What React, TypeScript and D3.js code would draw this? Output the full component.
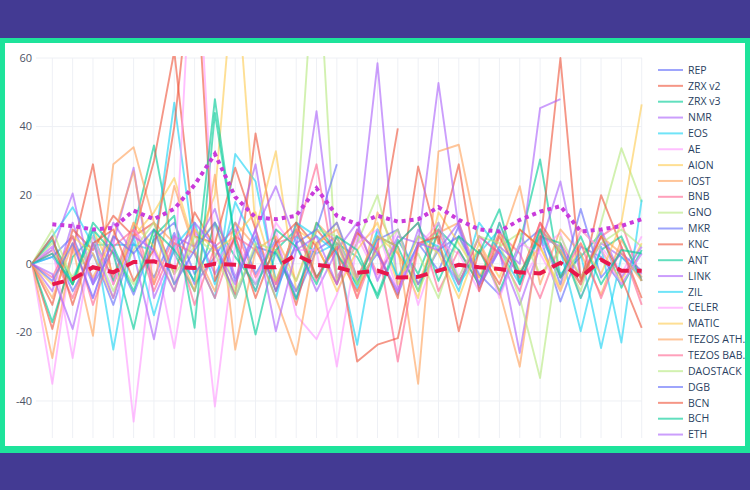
import React from "react";
import * as d3 from "d3";

const names = ["REP","ZRX v2","ZRX v3","NMR","EOS","AE","AION","IOST","BNB","GNO","MKR","KNC","ANT","LINK","ZIL","CELER","MATIC","TEZOS ATH.","TEZOS BAB.","DAOSTACK","DGB","BCN","BCH","ETH"];
const palette = ["#636efa","#EF553B","#00cc96","#ab63fa","#19d3f3","#FF97FF","#FECB52","#FFA15A","#FF6692","#B6E880"];
const N = null;

const REP = [0,5,-8,3,-12,6,-4,9,-6,2,12,-3,7,-10,4,8,-5,3,-9,6,-2,11,-7,4,-3,8,-11,5,2,-6,3];
const ZRXv2 = [0,-19,4,29,-6,8,12,-3,15,5,-9,38,6,-12,10,3,-8,5,39.5,N,N,N,N,N,N,N,N,N,N,N,N];
const ZRXv3 = [0,-17,2,8,-5,10,34.5,3,-8,12,2,-6,4,10,-4,6,2,-9,7,-3,12,-5,4,-8,6,30.4,-4,2,9,-7,4];
const NMR = [0,-8,12,-5,6,28,-10,4,10,-3,8,29,-6,5,44.5,-4,6,58.5,-8,10,4,-6,8,3,-12,5,24,-4,6,2,-3];
const EOS = [0,8,16.5,5.5,5.5,5.5,4,47,3,-10,32,24,-5,8,3,6,-7,10,-4,5,8,-6,3,10,-5,8,-3,3,-24.6,2,-4];
const AE = [0,-35,6,-10,8,-46,5,-24.6,12,-41.6,6,-8,10,-15,-22,-9,8,-4,10,-12,6,3,-8,12,-6,4,9,-10,5,-3,8];
const AION = [0,4,-6,10,-3,8,15,25,5,20,90,10,32.8,-8,5,12,-6,8,3,-10,15,6,-4,9,-2,5,-7,10,4,-5,6];
const IOST = [0,-27.5,5,-21,29,34,12,6,-8,26,-25,4,8,-5,12,6,-10,15,3,-6,9,12,-4,5,22.6,-6,10,3,-9,7,-4];
const BNB = [0,3,-10,6,-4,12,-6,8,-12,5,10,-4,6,8,29,-5,10,-3,6,12,-8,4,-6,9,3,-10,6,-4,8,12,-5];
const GNO = [0,6,-4,8,3,-6,10,-3,5,12,-8,4,-5,10,100,-5,6,20,-4,3,-10,8,-6,5,9,-3,4,-8,12,33.7,18];
const MKR = [0,2,8,-6,4,-9,7,12,-3,6,-10,5,3,-8,6,12,-4,7,10,-6,4,8,-3,-9,5,10,-6,16,-4,3,-2];
const KNC = [0,-12,10,4,14,8,30,62,8,6,28,10,-8,12,5,-6,9,4,-10,28.4,6,29,-8,8,-4,12,3,-6,20,5,-10];
const ANT = [0,7,-6,10,3,-19,8,14,-18.7,44,6,-20.6,4,-10.4,12,3,-6,8,5,-8,10,4,-6,12,-3,8,6,-10,4,8,-5];
const LINK = [0,4,20.5,-6,12,3,-22,8,5,16,-4,10,22.6,6,-8,4,12,-5,8,6,52.7,10,-6,4,-26,8,5,-6,10,-4,5];
const ZIL = [0,2,-5,10,-25,8,-15,5,12,-6,18,6,-10,12,8,3.3,-23.6,10,-4,8,5,-8,12,4,-6,10,4,-19.7,5,-23,18.7];
const CELER = [0,5,-27.5,8,-6,10,3,-5,110,0,8,-6,12,4,4,-30,6,10,-8,5,12,-4,8,-10,6,3,-8,10,4,-6,3];
const MATIC = [0,-6,8,3,-10,12,5,-8,10,4,8,15,-5,10,6,-8,4,12,-6,8,3,-10,6,-4,10,5,-8,6,-3,12,46.5];
const TEZOSATH = [0,-10,6,-4,8,27,-6,22.7,4,-8,12,5,-10,-26.5,6,10,-4,8,5,-35,32.8,34.7,6,-8,-30,10,4,-6,8,3,-5];
const TEZOSBAB = [0,-4,8,-12,5,10,-8,6,3,-10,8,4,-6,10,-5,8,-10,6,-28.5,5,10,-6,8,3,-8,12,-4,6,-10,5,-12];
const DAOSTACK = [0,10,-5,6,-8,4,12,-6,8,3,-10,6,4,-5,10,8,-6,4,10,-8,5,-4,8,6,-10,-33.3,8,-4,6,10,5];
const DGB = [0,-5,6,-10,8,3,10,-6,4,12,-5,8,-8,6,10,29,N,N,N,N,N,N,N,N,N,N,N,N,N,N,N];
const BCN = [0,8,-12,6,10,-5,4,40,95,-5,8,-10,6,12,-4,5,-28.5,-23.6,-21.7,6,8,-19.7,4,-6,10,5,60,-5,8,-4,-18.7];
const BCH = [0,3,-6,12,5,-8,10,4,-5,48,6,-8,10,5,-6,8,4,-10,6,12,-5,8,3,15.9,-6,10,-4,8,-6,4,3];
const ETH = [0,-3,-19,6,-10,8,4,-8,12,5,-6,10,-19.7,4,8,-6,10,3,-8,6,4,12,-6,5,0,45.4,48,N,N,N,N];

const MEAN = [N,-6,-4.5,-1,-2.5,0.5,0.7,-1,-1.2,0,-0.3,-1,-1,2.6,-0.3,-1,-2.6,-2,-4,-3.8,-2,-0.3,-1,-1.5,-2.5,-2.8,0.3,-4,1.2,-2,-2];
const STD = [N,11.5,11,10,10.5,15.5,13,16,23,32,19.5,13.5,13,14,22,14,11.5,14,12.3,13,16.5,12.8,10,9.4,12.8,15.2,16.8,9.4,10,11,13];

const seriesValues = [REP,ZRXv2,ZRXv3,NMR,EOS,AE,AION,IOST,BNB,GNO,MKR,KNC,ANT,LINK,ZIL,CELER,MATIC,TEZOSATH,TEZOSBAB,DAOSTACK,DGB,BCN,BCH,ETH];
const yTicks = [-40,-20,0,20,40,60];

export default function App() {
  const W = 750, H = 490;
  const n = REP.length;
  const x = d3.scaleLinear().domain([0, n - 1]).range([32, 641.7]);
  const y = d3.scaleLinear().domain([-50.8, 60]).range([438, 58]);
  const line = d3.line<number | null>()
    .defined((d) => d !== null)
    .x((_, i) => x(i))
    .y((d) => y(d as number));
  const font = "'Open Sans', 'Noto Sans', sans-serif";
  return (
    <svg width={W} height={H} style={{ position: "absolute", left: 0, top: 0 }}>
      <defs>
        <clipPath id="plot"><rect x={30} y={56} width={614} height={384} /></clipPath>
        <clipPath id="inner"><rect x={5} y={43} width={740} height={403} /></clipPath>
      </defs>
      <rect x={0} y={0} width={W} height={H} fill="#433a93" />
      <rect x={0} y={38} width={W} height={415} fill="#1ee39b" />
      <rect x={5} y={43} width={740} height={403} fill="#ffffff" />
      <g clipPath="url(#inner)">
        {d3.range(1, n).map((i) => (
          <line key={"v" + i} x1={x(i)} x2={x(i)} y1={58} y2={438} stroke="#eef0f5" strokeWidth={1} />
        ))}
        {yTicks.map((t) => (
          <line key={"h" + t} x1={36} x2={642} y1={y(t)} y2={y(t)} stroke="#eef0f5" strokeWidth={1} />
        ))}
        {yTicks.map((t) => (
          <text key={"t" + t} x={32} y={y(t)} dy="0.35em" textAnchor="end" fontSize={11} fontFamily={font} fill="#4d5366">
            {t}
          </text>
        ))}
        <g clipPath="url(#plot)">
          {seriesValues.map((s, k) => (
            <path key={names[k]} d={line(s) || ""} fill="none" stroke={palette[k % 10]} strokeOpacity={0.62} strokeWidth={1.9} strokeLinejoin="round" />
          ))}
          <path d={line(STD) || ""} fill="none" stroke="#c93bdb" strokeWidth={4} strokeDasharray="4,4" />
          <path d={line(MEAN) || ""} fill="none" stroke="#e8174b" strokeWidth={4} strokeDasharray="12,8" />
        </g>
        {names.map((nm, k) => {
          const ly = 70 + 15.85 * k;
          return (
            <g key={"l" + nm}>
              <line x1={658} x2={683} y1={ly} y2={ly} stroke={palette[k % 10]} strokeOpacity={0.62} strokeWidth={2} />
              <text x={688} y={ly} dy="0.35em" fontSize={10.5} fontFamily={font} fill="#2a3f5f">{nm}</text>
            </g>
          );
        })}
      </g>
    </svg>
  );
}
